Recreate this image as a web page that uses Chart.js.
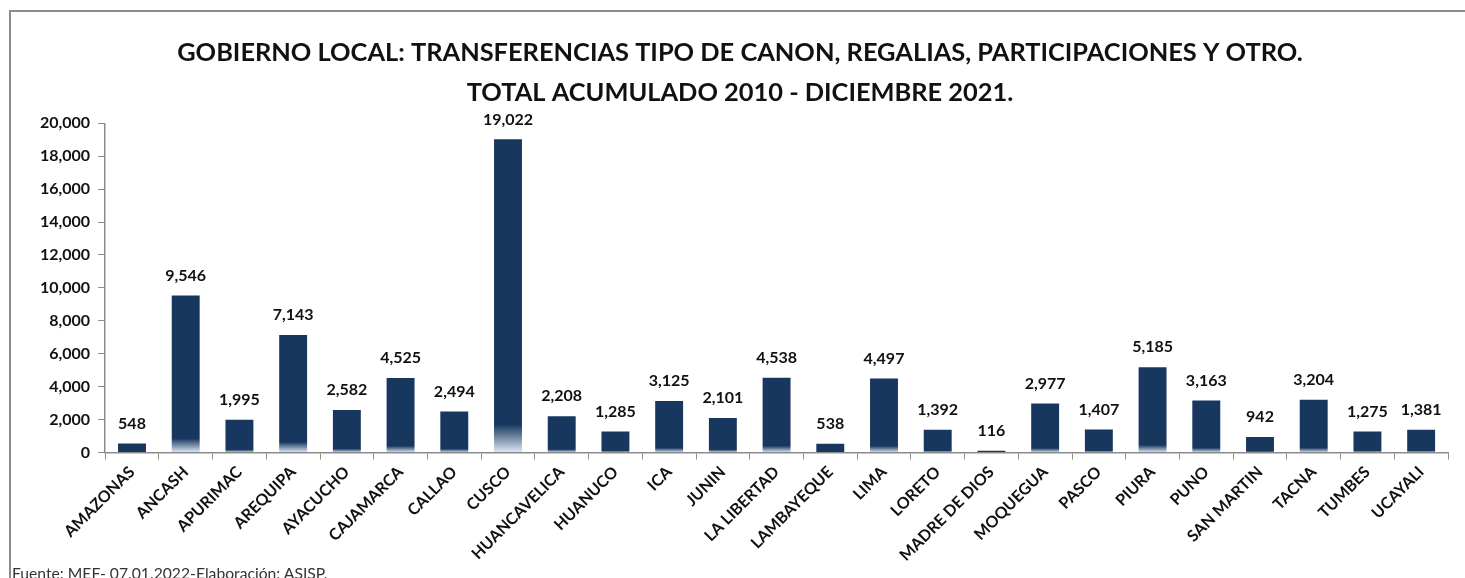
<!DOCTYPE html>
<html>
<head>
<meta charset="utf-8">
<script src="https://cdn.jsdelivr.net/npm/chart.js@4.4.1/dist/chart.umd.min.js"></script>
<style>
  html, body { margin: 0; padding: 0; background: #fff; overflow: hidden; }
  #wrap { position: relative; width: 1465px; height: 578px; }
  #frame {
    position: absolute; left: 9px; top: 10px; width: 1470px; height: 600px;
    border: 2px solid #8c8c8c; box-sizing: border-box; pointer-events: none;
  }
  #source {
    position: absolute; left: 12px; top: 564px;
    font-family: Lato, "Open Sans", sans-serif; font-size: 15.7px; color: #333;
  }
</style>
</head>
<body>
<div id="wrap">
  <canvas id="chart" width="1465" height="578"></canvas>
  <div id="frame"></div>
  <div id="source">Fuente: MEF- 07.01.2022-Elaboración: ASISP.</div>
</div>
<script>
// Data
const regions = ['AMAZONAS', 'ANCASH', 'APURIMAC', 'AREQUIPA', 'AYACUCHO', 'CAJAMARCA', 'CALLAO', 'CUSCO',
    'HUANCAVELICA', 'HUANUCO', 'ICA', 'JUNIN', 'LA LIBERTAD', 'LAMBAYEQUE', 'LIMA', 'LORETO',
    'MADRE DE DIOS', 'MOQUEGUA', 'PASCO', 'PIURA', 'PUNO', 'SAN MARTIN', 'TACNA', 'TUMBES', 'UCAYALI'];
const transfers = [548, 9546, 1995, 7143, 2582, 4525, 2494, 19022, 2208, 1285, 3125, 2101, 4538,
    538, 4497, 1392, 116, 2977, 1407, 5185, 3163, 942, 3204, 1275, 1381];
const yTicks = [0, 2000, 4000, 6000, 8000, 10000, 12000, 14000, 16000, 18000, 20000];

const barColor = '#17375e';
const fontFamily = 'Lato, "Open Sans", sans-serif';

function fmt(v) {
    return v.toLocaleString('en-US');
}

// bar fill: dark blue, fading lighter at the very bottom
function barFill(ctx) {
    const chart = ctx.chart;
    if (!chart.chartArea || ctx.type !== 'data') return barColor;
    const y = chart.scales.y;
    const top = y.getPixelForValue(ctx.raw);
    const base = y.getPixelForValue(0);
    if (base - top < 2) return barColor;
    const g = chart.ctx.createLinearGradient(0, top, 0, base);
    g.addColorStop(0, barColor);
    g.addColorStop(0.91, barColor);
    g.addColorStop(1, '#dfe8f5');
    return g;
}

// value labels above bars
const valueLabels = {
    id: 'valueLabels',
    afterDatasetsDraw(chart) {
        const ctx = chart.ctx;
        const meta = chart.getDatasetMeta(0);
        ctx.save();
        ctx.font = 'bold 16px ' + fontFamily;
        ctx.fillStyle = '#111';
        ctx.textAlign = 'center';
        ctx.textBaseline = 'bottom';
        meta.data.forEach((bar, i) => {
            ctx.fillText(fmt(transfers[i]), bar.x, bar.y - 12);
        });
        ctx.restore();
    }
};

new Chart(document.getElementById('chart').getContext('2d'), {
    type: 'bar',
    data: {
        labels: regions,
        datasets: [{
            data: transfers,
            backgroundColor: barFill,
            borderWidth: 0,
            barPercentage: 0.52,
            categoryPercentage: 1
        }]
    },
    options: {
        responsive: false,
        animation: false,
        layout: { padding: { left: 32, right: 17, top: 0, bottom: 10 } },
        plugins: {
            legend: { display: false },
            tooltip: { enabled: false },
            title: {
                display: true,
                text: ['GOBIERNO LOCAL: TRANSFERENCIAS TIPO DE CANON, REGALIAS, PARTICIPACIONES Y OTRO.',
                       'TOTAL ACUMULADO 2010 - DICIEMBRE 2021.'],
                color: '#111',
                font: { family: fontFamily, size: 25.4, weight: 'bold', lineHeight: 1.58 },
                padding: { top: 33, bottom: 10 }
            }
        },
        scales: {
            x: {
                border: { color: '#8c8c8c', width: 1.5 },
                grid: { drawOnChartArea: false, offset: true, tickLength: 7, color: '#8c8c8c' },
                ticks: {
                    color: '#111',
                    font: { family: fontFamily, size: 16, weight: 'bold' },
                    minRotation: 45, maxRotation: 45, autoSkip: false, padding: 3
                }
            },
            y: {
                min: 0, max: 20000,
                afterBuildTicks(scale) {
                    scale.ticks = yTicks.map(v => ({ value: v }));
                },
                border: { color: '#8c8c8c', width: 1.5 },
                grid: { drawOnChartArea: false, tickLength: 7, color: '#8c8c8c' },
                ticks: {
                    color: '#111',
                    font: { family: fontFamily, size: 16, weight: 'bold' },
                    padding: 8,
                    callback: v => fmt(v)
                }
            }
        }
    },
    plugins: [valueLabels]
});
</script>
</body>
</html>
